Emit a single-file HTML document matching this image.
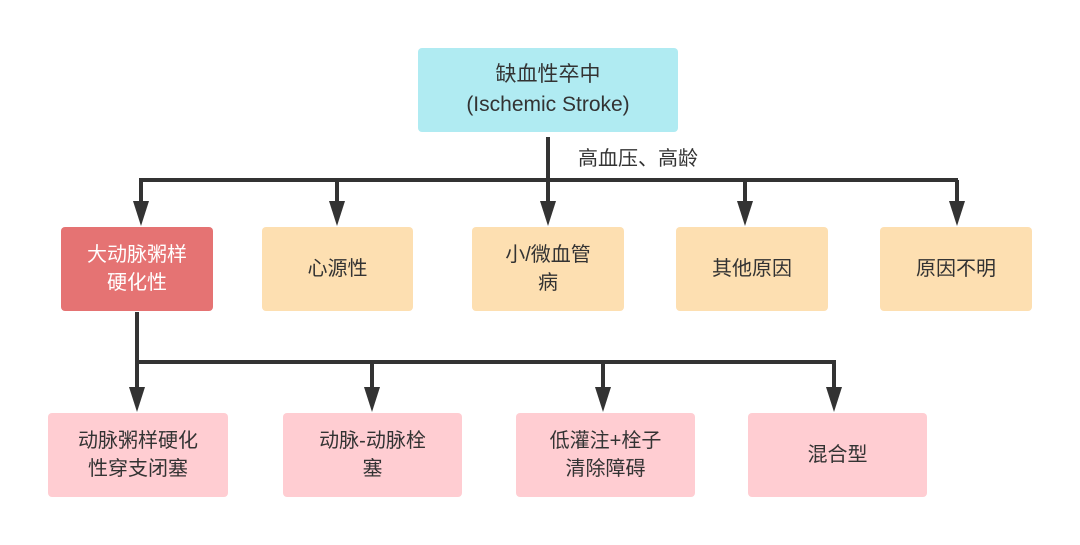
<!DOCTYPE html>
<html><head><meta charset="utf-8"><style>
body{margin:0;width:1080px;height:545px;background:#fff;position:relative;overflow:hidden;font-family:"Liberation Sans","Noto Sans CJK SC",sans-serif;}
.b{position:absolute;display:flex;align-items:center;justify-content:center;text-align:center;border-radius:4px;font-size:20px;line-height:28px;color:#333;}
.o{background:#fddfb1;}
.p{background:#ffcdd2;}
</style></head><body>
<svg width="1080" height="545" style="position:absolute;left:0;top:0">
<g stroke="#333" stroke-width="4" fill="none">
<path d="M548 137V205"/><path d="M139 180H958"/>
<path d="M141 180V205M337 180V205M745 180V205M957 180V205"/>
<path d="M137 312V390M135 362H836M372 362V390M603 362V390M834 362V390"/>
</g>
<g fill="#333">
<path d="M133 201h16l-8 25z"/><path d="M329 201h16l-8 25z"/><path d="M540 201h16l-8 25z"/><path d="M737 201h16l-8 25z"/><path d="M949 201h16l-8 25z"/>
<path d="M129 387h16l-8 25z"/><path d="M364 387h16l-8 25z"/><path d="M595 387h16l-8 25z"/><path d="M826 387h16l-8 25z"/>
</g>
<text x="578" y="165" font-size="20" fill="#333" font-family="Liberation Sans,Noto Sans CJK SC,sans-serif">高血压、高龄</text>
</svg>
<div class="b" style="left:418px;top:48px;width:260px;height:84px;background:#b0ebf2;font-size:21px;line-height:30px">缺血性卒中<br>(Ischemic Stroke)</div>
<div class="b" style="left:61px;top:227px;width:152px;height:84px;background:#e57373;color:#fff">大动脉粥样<br>硬化性</div>
<div class="b o" style="left:262px;top:227px;width:151px;height:84px">心源性</div>
<div class="b o" style="left:472px;top:227px;width:152px;height:84px">小/微血管<br>病</div>
<div class="b o" style="left:676px;top:227px;width:152px;height:84px">其他原因</div>
<div class="b o" style="left:880px;top:227px;width:152px;height:84px">原因不明</div>
<div class="b p" style="left:48px;top:413px;width:180px;height:84px">动脉粥样硬化<br>性穿支闭塞</div>
<div class="b p" style="left:283px;top:413px;width:179px;height:84px">动脉-动脉栓<br>塞</div>
<div class="b p" style="left:516px;top:413px;width:179px;height:84px">低灌注+栓子<br>清除障碍</div>
<div class="b p" style="left:748px;top:413px;width:179px;height:84px">混合型</div>
</body></html>
